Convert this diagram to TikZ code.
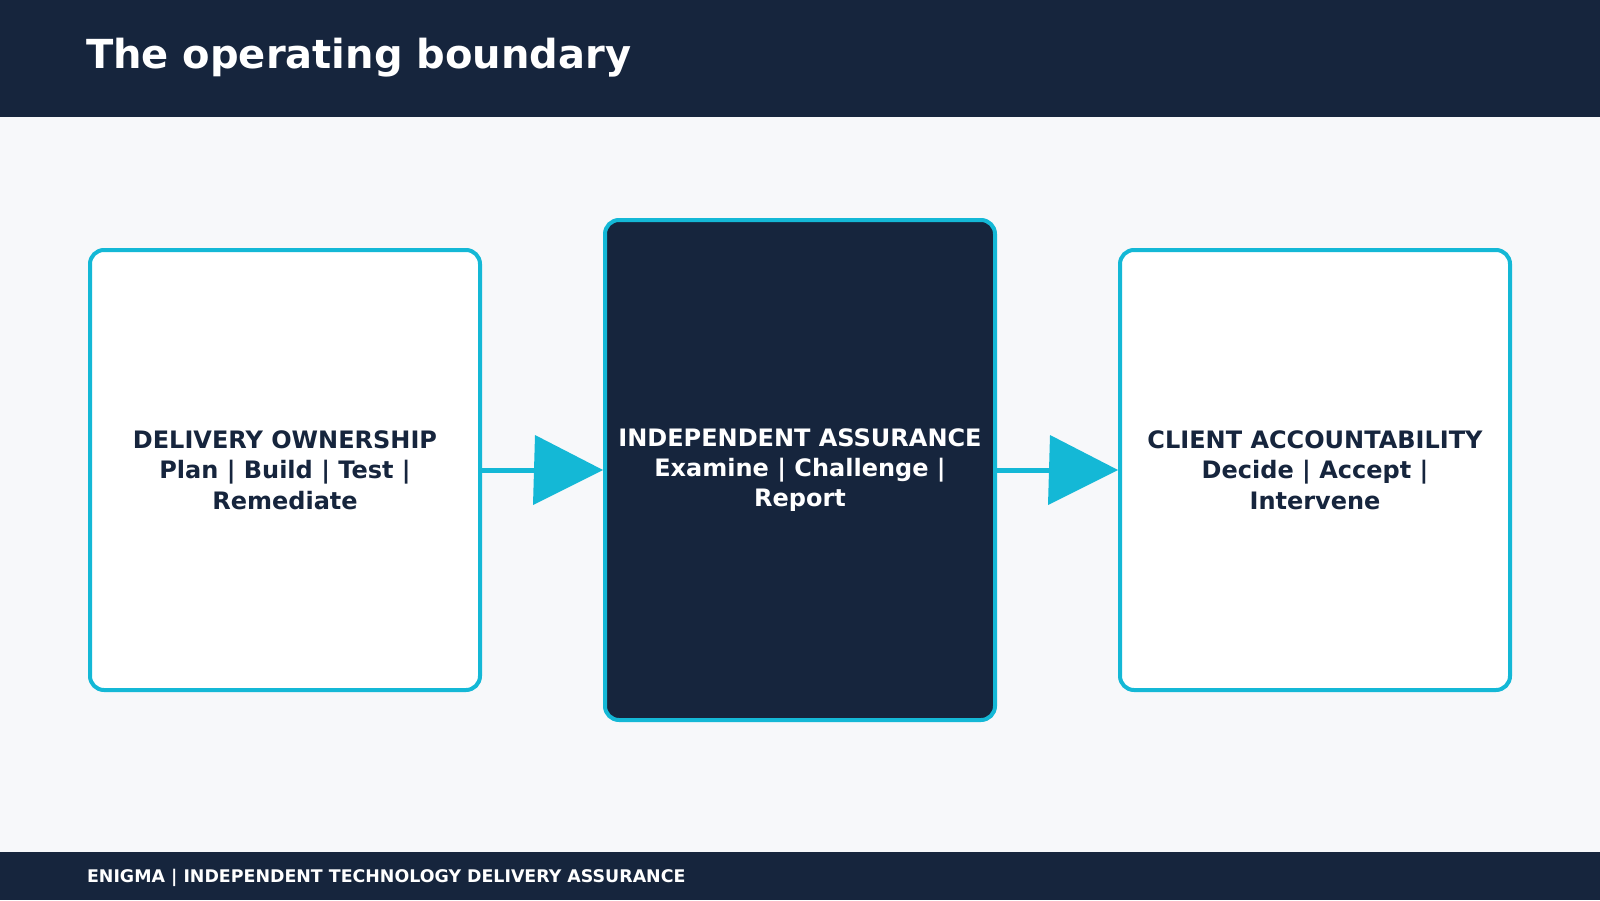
\documentclass[tikz,border=0pt]{standalone}
\usepackage{fontspec}
\setmainfont{DejaVu Sans}
\definecolor{navy}{HTML}{16253D}
\definecolor{cyanc}{HTML}{14B8D6}
\definecolor{bg}{HTML}{F7F8FA}
\begin{document}
\begin{tikzpicture}[x=0.5pt,y=-0.5pt,
 box/.style={draw=cyanc,line width=2pt,rounded corners=7pt,inner sep=0pt,align=center,font=\bfseries\fontsize{12}{15.2}\selectfont},
 conn/.style={cyanc,line width=2.5pt},
 head/.style={fill=cyanc,draw=none}]
\useasboundingbox (0,0) rectangle (1600,900);
\fill[bg] (0,0) rectangle (1600,900);
\fill[navy] (0,0) rectangle (1600,117);
\fill[navy] (0,852) rectangle (1600,900);
\node[anchor=west,text=white,font=\bfseries\fontsize{20}{24}\selectfont] (title) at (79,58) {The operating boundary};
\node[anchor=west,text=white,font=\bfseries\fontsize{8.7}{10}\selectfont] (foot) at (80,878) {ENIGMA | INDEPENDENT TECHNOLOGY DELIVERY ASSURANCE};
\node[box,fill=white,text=navy,minimum width=195pt,minimum height=220pt] (a) at (285,470) {DELIVERY OWNERSHIP\\Plan | Build | Test |\\Remediate};
\node[box,fill=navy,text=white,minimum width=195pt,minimum height=250pt] (b) at (800,470) {INDEPENDENT ASSURANCE\\Examine | Challenge |\\Report};
\node[box,fill=white,text=navy,minimum width=195pt,minimum height=220pt] (c) at (1315,470) {CLIENT ACCOUNTABILITY\\Decide | Accept |\\Intervene};
\coordinate (h1) at (535,470);
\coordinate (h2) at (1050,470);
\draw[conn] (a.east) -- (h1);
\draw[conn] (b.east) -- (h2);
\fill[head] (h1) ++(0,-35) -- (b.west) -- ++(-70,35) -- cycle;
\fill[head] (h2) ++(0,-35) -- (c.west) -- ++(-70,35) -- cycle;
\end{tikzpicture}
\end{document}
